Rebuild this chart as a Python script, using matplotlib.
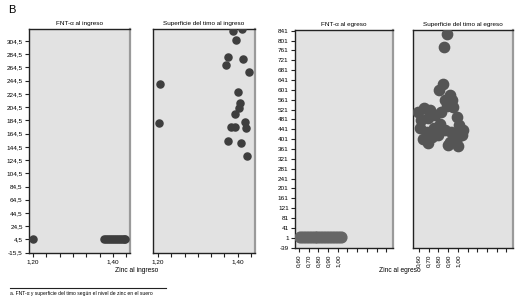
import numpy as np
import matplotlib
matplotlib.use("Agg")
import matplotlib.pyplot as plt
from matplotlib.ticker import FixedLocator

plt.rcParams['font.family'] = ['Liberation Sans', 'DejaVu Sans']

# ---- datos ----
# FNT-alfa al ingreso vs zinc al ingreso
zinc_ing_a = [1.20, 1.378, 1.383, 1.388, 1.393, 1.398, 1.403, 1.408, 1.413, 1.418, 1.423, 1.428, 1.430]
fnt_ing = [4.5, 4.5, 4.5, 4.5, 4.5, 4.5, 4.5, 4.5, 4.5, 4.5, 4.5, 4.5, 4.5]

# superficie del timo al ingreso vs zinc al ingreso
zinc_ing_b = [1.388, 1.411, 1.397, 1.376, 1.414, 1.371, 1.429, 1.204, 1.400, 1.407, 1.404,
              1.392, 1.2015, 1.419, 1.382, 1.394, 1.421, 1.375, 1.408, 1.424]
timo_ing = [319, 322.7, 305.4, 281.1, 277.2, 268.1, 258.4, 240.2, 227.1, 210.4, 203.7,
            193.7, 180.5, 182.5, 174.9, 174.9, 172.5, 153.2, 150.2, 130.5]

# FNT-alfa al egreso vs zinc al egreso
zinc_egr_a = [0.61, 0.64, 0.67, 0.70, 0.73, 0.76, 0.79, 0.82, 0.85, 0.88, 0.91, 0.94, 0.97, 1.00, 1.03]
fnt_egr = [4, 4, 4, 4, 4, 4, 4, 4, 4, 4, 4, 4, 4, 4, 4]

# superficie del timo al egreso vs zinc al egreso
zinc_egr_b = [0.886, 0.858, 0.844, 0.809, 0.920, 0.868, 0.940, 0.954, 0.889, 0.989, 1.010, 1.040,
              0.590, 0.650, 0.710, 0.620, 0.690, 0.765, 0.830, 0.610, 0.680, 0.755, 0.820, 0.870,
              0.930, 0.990, 1.050, 0.800, 0.920, 1.000, 0.690, 0.900, 1.020, 0.640, 0.730]
timo_egr = [826, 776, 623, 600, 580, 559, 559, 532, 535, 491, 458, 417,
            510, 527, 519, 478, 486, 498, 510, 445, 429, 445, 462, 437,
            429, 405, 437, 417, 389, 372, 384, 376, 425, 400, 410]

yticks_ing = [304.5, 284.5, 264.5, 244.5, 224.5, 204.5, 184.5, 164.5, 144.5, 124.5,
              104.5, 84.5, 64.5, 44.5, 24.5, 4.5, -15.5]
yticks_egr = [841, 801, 761, 721, 681, 641, 601, 561, 521, 481, 441, 401, 361, 321,
              281, 241, 201, 161, 121, 81, 41, 1, -39]
xticks_ing = [1.20, 1.2333, 1.2667, 1.30, 1.3333, 1.3667, 1.40, 1.4333]
xlabels_ing = ["1,20", "", "", "", "", "", "1,40", ""]
xticks_egr = [0.60, 0.70, 0.80, 0.90, 1.00, 1.10, 1.20, 1.30, 1.40, 1.50]
xlabels_egr = ["0,60", "0,70", "0,80", "0,90", "1,00", "", "", "", "", ""]

W, H = 532, 306
fig = plt.figure(figsize=(W / 100, H / 100), dpi=100)

BG = "#e2e2e2"
DOT = "#3e3e3e"


def make_ax(rect, title):
    ax = fig.add_axes(rect)
    ax.set_facecolor(BG)
    for s in ["left", "top", "bottom"]:
        ax.spines[s].set_color("#222222")
        ax.spines[s].set_linewidth(1.0)
    ax.spines["right"].set_color("#9a9a9a")
    ax.spines["right"].set_linewidth(1.6)
    ax.tick_params(length=3, width=0.8, color="#222222", labelsize=4.6, pad=1.5)
    ax.set_title(title, fontsize=4.6, pad=3)
    return ax


def px(x0, y0, x1, y1):
    return [x0 / W, 1 - y1 / H, (x1 - x0) / W, (y1 - y0) / H]


ax1 = make_ax(px(29, 29, 130, 253), "FNT-α al ingreso")
ax2 = make_ax(px(152.7, 29, 255, 253), "Superficie del timo al ingreso")
ax3 = make_ax(px(295, 30, 393, 248), "FNT-α al egreso")
ax4 = make_ax(px(413, 30, 513, 248), "Superficie del timo al egreso")

ax1.scatter(zinc_ing_a, fnt_ing, s=26, color=DOT, zorder=3)
ax2.scatter(zinc_ing_b, timo_ing, s=26, color=DOT, zorder=3)
ax3.scatter(zinc_egr_a, fnt_egr, s=60, color="#666666", zorder=3)
ax4.scatter(zinc_egr_b, timo_egr, s=55, color="#555555", zorder=3)

for ax in (ax1, ax2):
    ax.set_ylim(-16, 322.7)
    ax.yaxis.set_major_locator(FixedLocator(yticks_ing))
    ax.xaxis.set_major_locator(FixedLocator(xticks_ing))
    ax.set_xticklabels(xlabels_ing)
ax1.set_xlim(1.19, 1.4425)
ax2.set_xlim(1.1865, 1.4435)
ax1.set_yticklabels([("%.1f" % v).replace(".", ",") for v in yticks_ing])
ax2.set_yticklabels([])
ax2.tick_params(axis="y", length=0)

for ax in (ax3, ax4):
    ax.set_ylim(-41, 844)
    ax.yaxis.set_major_locator(FixedLocator(yticks_egr))
    ax.xaxis.set_major_locator(FixedLocator(xticks_egr))
    ax.set_xticklabels(xlabels_egr, rotation=90)
ax3.set_xlim(0.559, 1.569)
ax4.set_xlim(0.538, 1.569)
ax3.set_yticklabels([str(v) for v in yticks_egr])
ax4.set_yticklabels([])
ax4.tick_params(axis="y", length=0)

fig.text(8 / W, 1 - 10 / H, "B", fontsize=8, va="center", ha="left")
fig.text(137 / W, 1 - 271 / H, "Zinc al ingreso", fontsize=4.8, ha="center", va="center")
fig.text(400 / W, 1 - 271 / H, "Zinc al egreso", fontsize=4.8, ha="center", va="center")

fig.add_artist(plt.Line2D([10 / W, 166 / W], [1 - 288 / H, 1 - 288 / H], color="#222222", lw=0.8))
fig.text(10 / W, 1 - 294 / H, "a. FNT-α y superficie del timo según el nivel de zinc en el suero",
         fontsize=3.6, ha="left", va="center")

fig.savefig("out.png", dpi=100)
